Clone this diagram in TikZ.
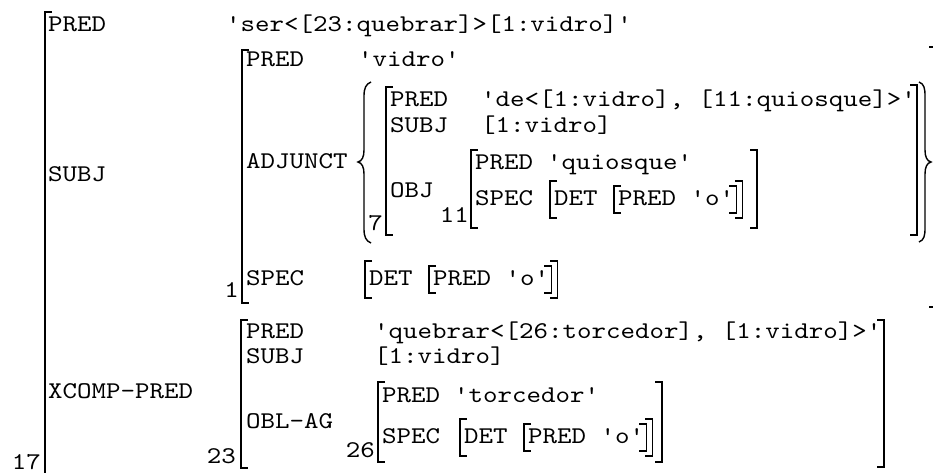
\documentclass[tikz,border=0pt]{standalone}
\usepackage{fontspec}
\setmonofont{lmmono10-regular.otf}[FakeStretch=1.15]
\usetikzlibrary{calc}

\tikzset{
  lbl/.style={anchor=base west,inner sep=0pt},
  idx/.style={anchor=base east,inner sep=0pt},
  brk/.style={line width=1.4pt},
}
\newcommand{\lbrk}[3]{\draw[brk] ({#1+7},#2) -- (#1,#2) -- (#1,#3) -- ({#1+7},#3);}
\newcommand{\rbrk}[3]{\draw[brk] ({#1-7},#2) -- (#1,#2) -- (#1,#3) -- ({#1-7},#3);}
% [DET [PRED 'o']] : name, x of first bracket, baseline
\newcommand{\detpred}[3]{%
  \lbrk{#2}{#3-24}{#3+13}
  \lbrk{#2+64}{#3-19}{#3+8}
  \node[lbl] (#1det) at ({#2+4},#3) {DET};
  \node[lbl] (#1o) at ({#2+68},#3) {PRED 'o'};
  \draw[brk] ($(#1o.base east)+(-5,-19)$) -- ++(7,0) -- ++(0,27) -- ++(-7,0);
  \draw[brk] ($(#1o.base east)+(1,-24)$) -- ++(7,0) -- ++(0,37) -- ++(-7,0);}

\begin{document}
\begin{tikzpicture}[x=1pt,y=-1pt,font=\fontsize{24}{29}\selectfont\ttfamily]
  \clip (0,0) rectangle (933,473);
  % outer f-structure 17
  \lbrk{45}{12}{477}
  \node[idx] (n17) at (41,469) {17};
  \node[lbl] (pred) at (48,32) {PRED};
  \node[lbl] (predv) at (226,32) {'ser<[23:quebrar]>[1:vidro]'};
  \node[lbl] (subj) at (48,182) {SUBJ};
  \node[lbl] (xcomp) at (48,398) {XCOMP-PRED};
  % SUBJ, f-structure 1
  \lbrk{242}{50}{303}
  \rbrk{936}{47}{307}
  \node[idx] (n1) at (239,297) {1};
  \node[lbl] (s-pred) at (246,67) {PRED};
  \node[lbl] (s-predv) at (358,67) {'vidro'};
  \node[lbl] (s-adj) at (246,168) {ADJUNCT};
  \node[lbl] (s-spec) at (246,285) {SPEC};
  \detpred{s-}{365}{285}
  % the ADJUNCT set
  \draw[brk] (371,82) .. controls (366,84) and (364,88) .. (364,96) -- (364,150)
    .. controls (364,157) and (362,161) .. (358,162)
    .. controls (362,163) and (364,167) .. (364,174) -- (364,229)
    .. controls (364,237) and (366,241) .. (371,243);
  \draw[brk] (919,82) .. controls (924,84) and (925,88) .. (925,96) -- (925,150)
    .. controls (925,157) and (927,161) .. (931,162)
    .. controls (927,163) and (925,167) .. (925,174) -- (925,228)
    .. controls (925,236) and (924,240) .. (919,242);
  % member, f-structure 7
  \lbrk{386}{87}{235}
  \rbrk{917}{85}{235}
  \node[idx] (n7) at (383,230) {7};
  \node[lbl] (a-pred) at (390,107) {PRED};
  \node[lbl] (a-predv) at (481,107) {'de<[1:vidro], [11:quiosque]>'};
  \node[lbl] (a-subj) at (390,133) {SUBJ};
  \node[lbl] (a-subjv) at (481,133) {[1:vidro]};
  \node[lbl] (a-obj) at (390,197) {OBJ};
  % OBJ, f-structure 11
  \lbrk{471}{150}{228}
  \rbrk{757}{150}{228}
  \node[idx] (n11) at (469,222) {11};
  \node[lbl] (o-pred) at (475,169) {PRED};
  \node[lbl] (o-predv) at (547,169) {'quiosque'};
  \node[lbl] (o-spec) at (475,205) {SPEC};
  \detpred{o-}{550}{205}
  % XCOMP-PRED, f-structure 23
  \lbrk{241}{320}{468}
  \rbrk{884}{320}{467}
  \node[idx] (n23) at (236,463) {23};
  \node[lbl] (x-pred) at (246,338) {PRED};
  \node[lbl] (x-predv) at (374,338) {'quebrar<[26:torcedor], [1:vidro]>'};
  \node[lbl] (x-subj) at (246,363) {SUBJ};
  \node[lbl] (x-subjv) at (374,363) {[1:vidro]};
  \node[lbl] (x-obl) at (246,428) {OBL-AG};
  % OBL-AG, f-structure 26
  \lbrk{378}{382}{462}
  \rbrk{662}{382}{462}
  \node[idx] (n26) at (375,457) {26};
  \node[lbl] (g-pred) at (382,402) {PRED};
  \node[lbl] (g-predv) at (454,402) {'torcedor'};
  \node[lbl] (g-spec) at (382,443) {SPEC};
  \detpred{g-}{460}{443}
\end{tikzpicture}
\end{document}
